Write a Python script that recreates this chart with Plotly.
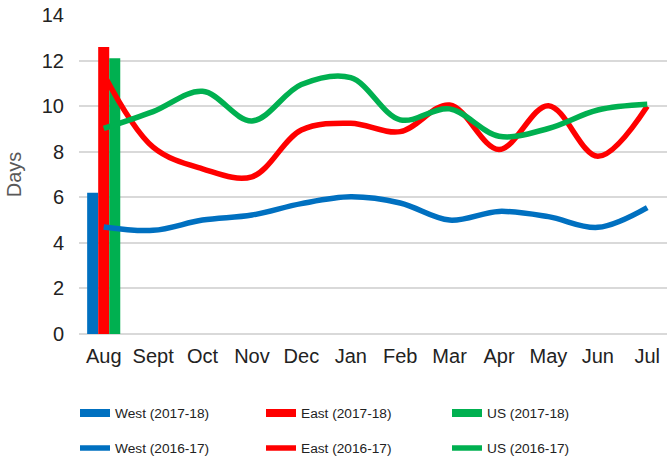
import plotly.graph_objects as go

months = ["Aug", "Sept", "Oct", "Nov", "Dec", "Jan", "Feb", "Mar", "Apr", "May", "Jun", "Jul"]

# 2017-18 (only August available)
bar_month = ["Aug"]
west_1718 = [6.2]
east_1718 = [12.6]
us_1718 = [12.1]

# 2016-17
west_1617 = [4.7, 4.55, 5.0, 5.22, 5.72, 6.02, 5.75, 5.0, 5.38, 5.15, 4.68, 5.55]
east_1617 = [11.4, 8.2, 7.25, 6.9, 8.95, 9.25, 8.88, 10.05, 8.1, 10.02, 7.8, 10.0]
us_1617 = [9.02, 9.76, 10.65, 9.35, 10.95, 11.25, 9.4, 9.88, 8.68, 9.02, 9.83, 10.08]

BLUE = "#0070C0"
RED = "#FF0000"
GREEN = "#00B050"

fig = go.Figure()

for name, vals, col in [("West (2017-18)", west_1718, BLUE),
                        ("East (2017-18)", east_1718, RED),
                        ("US (2017-18)", us_1718, GREEN)]:
    fig.add_trace(go.Bar(x=bar_month, y=vals, name=name, marker=dict(color=col, line=dict(width=0)),
                         showlegend=False))

# legend proxies for bars (thick flat lines)
for name, col in [("West (2017-18)", BLUE), ("East (2017-18)", RED), ("US (2017-18)", GREEN)]:
    fig.add_trace(go.Scatter(x=[months[0]], y=[None], mode="lines", name=name,
                             line=dict(color=col, width=8), legend="legend"))

for name, vals, col in [("West (2016-17)", west_1617, BLUE),
                        ("East (2016-17)", east_1617, RED),
                        ("US (2016-17)", us_1617, GREEN)]:
    fig.add_trace(go.Scatter(x=months, y=vals, mode="lines", name=name,
                             line=dict(color=col, width=5.5, shape="spline", smoothing=1.0),
                             legend="legend2"))

leg_common = dict(orientation="h", xref="container", yref="container", xanchor="left",
                  yanchor="middle", entrywidth=141, entrywidthmode="pixels",
                  traceorder="normal", font=dict(size=13.7, color="#222222"),
                  bgcolor="rgba(0,0,0,0)")

fig.update_layout(
    width=667, height=461,
    margin=dict(l=79, r=0, t=15, b=127, autoexpand=False),
    paper_bgcolor="white", plot_bgcolor="white",
    font=dict(family="Liberation Sans, Arial, sans-serif", color="#222222"),
    barmode="group", bargap=0.33, bargroupgap=0,
    showlegend=True,
    legend=dict(x=75 / 667, y=1 - 413 / 461, **leg_common),
    legend2=dict(x=75 / 667, y=1 - 448 / 461, **leg_common),
)
fig.update_xaxes(type="category", categoryorder="array", categoryarray=months,
                 range=[-0.5, 11.4], showgrid=False, showline=False, zeroline=False,
                 tickfont=dict(size=20), ticks="", ticklabelstandoff=8, automargin=False)
fig.update_yaxes(range=[0, 14], dtick=2, showgrid=True, gridcolor="#D9D9D9", gridwidth=1.5,
                 zeroline=True, zerolinecolor="#D9D9D9", zerolinewidth=1.5,
                 tickfont=dict(size=20), ticks="", ticklabelstandoff=14, automargin=False,
                 title=dict(text="Days", font=dict(size=20, color="#595959"), standoff=14))

fig.write_html("out.html",
               config={"displayModeBar": False},
               post_script="document.body.style.margin='0';document.body.style.overflow='hidden';")
